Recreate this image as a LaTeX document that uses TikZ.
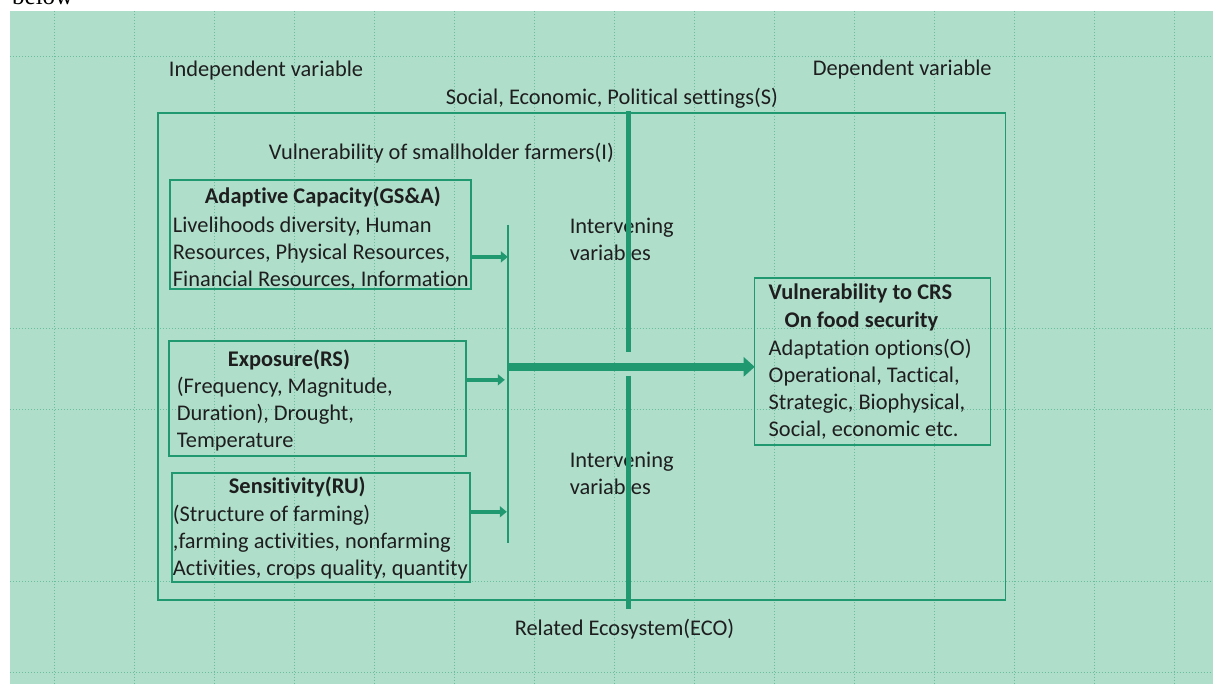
\documentclass[tikz,border=0pt]{standalone}
\usepackage{fontspec}
\setmainfont{Carlito}[Ligatures=NoCommon]
\newfontfamily\seriffont{Liberation Serif}
\usetikzlibrary{arrows.meta}
\definecolor{bgmint}{RGB}{175,222,203}
\definecolor{gline}{RGB}{32,152,112}
\definecolor{gridc}{RGB}{60,170,130}
\definecolor{txt}{RGB}{30,30,30}
\begin{document}
\begin{tikzpicture}[x=1pt,y=-1pt,
  font=\fontsize{22.4}{27}\selectfont,
  lbl/.style={anchor=base west, inner sep=0, outer sep=0, text=txt},
  hd/.style={lbl, font=\fontsize{22.4}{27}\selectfont\bfseries},
  box/.style={draw=gline, line width=1.5pt, inner sep=0, outer sep=0, rectangle},
  smallarr/.style={draw=gline, line width=4pt, -{Triangle[length=7pt,width=11pt]}},
  bigarr/.style={draw=gline, line width=8pt, -{Triangle[length=11pt,width=19pt]}},
  vbar/.style={draw=gline, line width=4.5pt},
  thinln/.style={draw=gline, line width=1.5pt},
  gridln/.style={draw=gridc, line width=1pt, dash pattern=on 1.5pt off 1.5pt, opacity=0.6}]
% background
\fill[white] (0,0) rectangle (1213,684);
\fill[bgmint] (10,11) rectangle (1213,684);
\foreach \x in {55,135,...,1175} \draw[gridln] (\x,11) -- (\x,684);
\foreach \y in {57,329,410,582,673} \draw[gridln] (10,\y) -- (1213,\y);
\useasboundingbox (0,0) rectangle (1213,684);
\node[anchor=base west, inner sep=0, font=\fontsize{25}{30}\selectfont\seriffont] (below) at (12,5) {below};

% frame and boxes
\node[box, minimum width=848pt, minimum height=487pt] (frame) at (582,356.5) {};
\node[box, minimum width=301pt, minimum height=109pt] (adapt) at (320.5,234.5) {};
\node[box, minimum width=297pt, minimum height=115pt] (expo) at (317.5,398.5) {};
\node[box, minimum width=298pt, minimum height=109pt] (sens) at (321,527.5) {};
\node[box, minimum width=236pt, minimum height=167pt] (vul) at (873,361.5) {};

% top labels
\node[lbl] (indep) at (169,77) {Independent variable};
\node[lbl, anchor=base east] (dep) at (992,76) {Dependent variable};
\node[lbl] (social) at (446,105) {Social, Economic, Political settings(S)};
\node[lbl] (vsf) at (269,160) {Vulnerability of smallholder farmers(I)};

% adaptive capacity
\node[hd] (adT) at (205,204) {Adaptive Capacity(GS\&A)};
\node[lbl] (ad1) at (173,233) {Livelihoods diversity, Human};
\node[lbl] (ad2) at (173,260) {Resources, Physical Resources,};
\node[lbl] (ad3) at (173,287) {Financial Resources, Information};

% exposure
\node[hd] (exT) at (228,367) {Exposure(RS)};
\node[lbl] (ex1) at (177,394) {(Frequency, Magnitude,};
\node[lbl] (ex2) at (177,421) {Duration), Drought,};
\node[lbl] (ex3) at (177,448) {Temperature};

% sensitivity
\node[hd] (seT) at (229,494) {Sensitivity(RU)};
\node[lbl] (se1) at (173,522) {(Structure of farming)};
\node[lbl] (se2) at (173,549) {,farming activities, nonfarming};
\node[lbl] (se3) at (173,576) {Activities, crops quality, quantity};

% vulnerability box
\node[hd] (vu1) at (769,300) {Vulnerability to CRS};
\node[hd] (vu2) at (785,328) {On food security};
\node[lbl] (vu3) at (769,356) {Adaptation options(O)};
\node[lbl] (vu4) at (769,383) {Operational, Tactical,};
\node[lbl] (vu5) at (769,410) {Strategic, Biophysical,};
\node[lbl] (vu6) at (769,437) {Social, economic etc.};

% intervening
\node[lbl] (iv1) at (570,234) {Intervening};
\node[lbl] (iv2) at (570,261) {variables};
\node[lbl] (iv3) at (570,468) {Intervening};
\node[lbl] (iv4) at (570,495) {variables};

\node[lbl] (eco) at (515,636) {Related Ecosystem(ECO)};

% connectors
\coordinate (brT) at (508,225);
\coordinate (brB) at (508,543);
\draw[thinln] (brT) -- (brB);
\coordinate (aArr) at (508,257);
\coordinate (eArr) at (505,380);
\coordinate (sArr) at (507,512);
\draw[smallarr] (adapt.east |- aArr) -- (aArr);
\draw[smallarr] (expo.east |- eArr) -- (eArr);
\draw[smallarr] (sens.east |- sArr) -- (sArr);
\coordinate (mS) at (508,367);
\draw[bigarr] (mS) -- (vul.west |- mS);
\coordinate (sT) at (629,111);
\coordinate (sU) at (629,352);
\coordinate (sL) at (629,376);
\coordinate (sB) at (629,609);
\draw[vbar] (sT) -- (sU);
\draw[vbar] (sL) -- (sB);
\end{tikzpicture}
\end{document}
